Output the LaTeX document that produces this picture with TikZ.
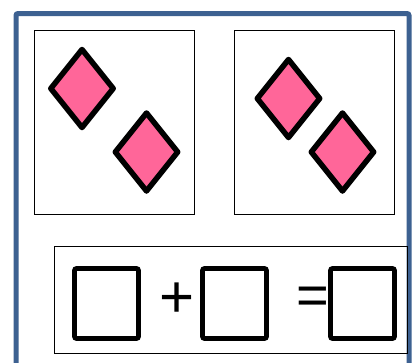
\documentclass[tikz,border=0pt]{standalone}
\usepackage{fontspec}
\setmainfont{Liberation Sans}
\definecolor{frameblue}{HTML}{3D6191}
\definecolor{dpink}{HTML}{FF6699}
\tikzset{
  outerframe/.style={draw=frameblue,line width=5pt,rounded corners=2pt},
  panel/.style={draw=black,line width=0.9pt},
  gem/.style={draw=black,fill=dpink,line width=5.5pt,line join=round},
  slot/.style={draw=black,line width=4.7pt,rounded corners=2pt},
  sym/.style={inner sep=0pt}
}
\begin{document}
\begin{tikzpicture}[x=1pt,y=-1pt]
\useasboundingbox (0,0) rectangle (420,362);
\fill[white] (0,0) rectangle (420,362);
\draw[outerframe] (16,13.5) rectangle (409,380);
% panels
\draw[panel] (34,30) rectangle (194,214);
\draw[panel] (234,30) rectangle (394,214);
% diamonds
\foreach \cx/\cy in {82/88.5,146.5/152,288.5/98.5,342.5/152}{
  \draw[gem] (\cx-31.2,\cy) -- (\cx,\cy-39) -- (\cx+31.2,\cy) -- (\cx,\cy+39) -- cycle;
}
% equation box
\draw[panel] (54,246) rectangle (407,353);
\draw[slot] (74.5,268.5) rectangle (138.5,338.5);
\draw[slot] (202.5,268.5) rectangle (266.5,338.5);
\draw[slot] (330.5,268.5) rectangle (394.5,338.5);
\node[sym,font=\fontsize{60}{60}\selectfont] (plus) at (177,300) {+};
\node[sym,font=\fontsize{56}{56}\selectfont] (eq) at (313,301) {=};
\end{tikzpicture}
\end{document}
